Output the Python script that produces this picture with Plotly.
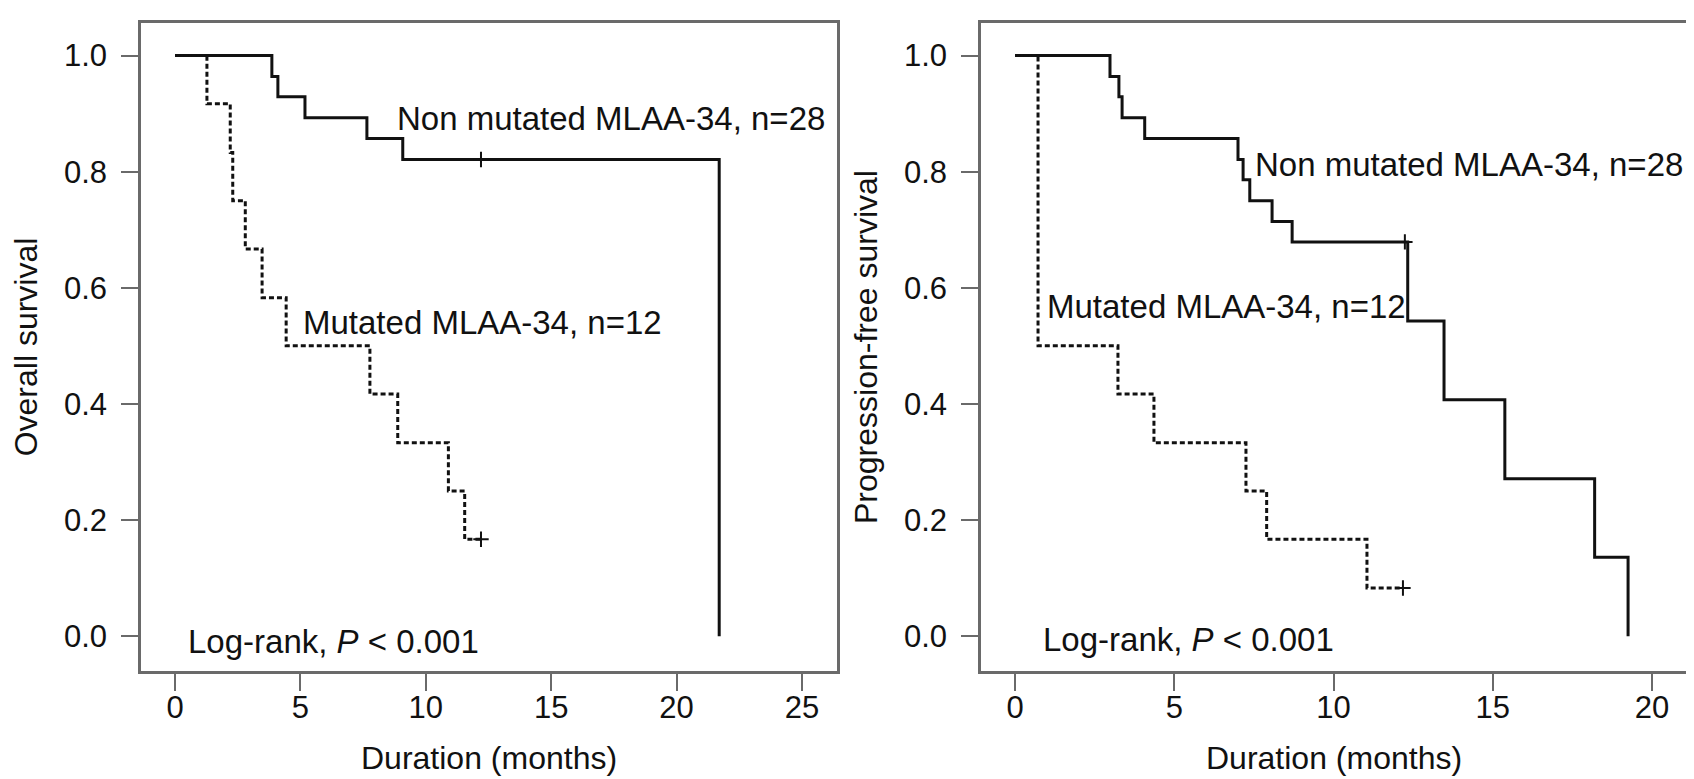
import plotly.graph_objects as go
from plotly.subplots import make_subplots

# left panel: overall survival
os_non_t = [0, 3.86, 4.1, 5.18, 7.65, 9.08, 21.7]
os_non_s = [1.0, 0.964, 0.929, 0.893, 0.857, 0.821, 0.0]
os_non_cens_t = [12.2]
os_non_cens_s = [0.821]

os_mut_t = [0, 1.27, 2.2, 2.3, 2.8, 3.47, 4.43, 7.77, 8.88, 10.9, 11.55, 12.2]
os_mut_s = [1.0, 0.917, 0.833, 0.75, 0.667, 0.583, 0.5, 0.417, 0.333, 0.25, 0.167, 0.167]
os_mut_cens_t = [12.2]
os_mut_cens_s = [0.167]

# right panel: progression-free survival
pfs_non_t = [0, 2.98, 3.26, 3.36, 4.07, 7.0, 7.16, 7.37, 8.07, 8.7, 12.33, 13.47, 15.38, 18.2, 19.25]
pfs_non_s = [1.0, 0.964, 0.929, 0.893, 0.857, 0.821, 0.786, 0.75, 0.714, 0.679, 0.543, 0.407, 0.271, 0.136, 0.0]
pfs_non_cens_t = [12.24]
pfs_non_cens_s = [0.679]

pfs_mut_t = [0, 0.72, 3.23, 4.36, 7.25, 7.9, 11.05, 12.18]
pfs_mut_s = [1.0, 0.5, 0.417, 0.333, 0.25, 0.167, 0.083, 0.083]
pfs_mut_cens_t = [12.18]
pfs_mut_cens_s = [0.083]

label_non = "Non mutated MLAA-34, n=28"
label_mut = "Mutated MLAA-34, n=12"
label_p = "Log-rank, <i>P</i> &lt; 0.001"
ytitles = ["Overall survival", "Progression-free survival"]
xtitle = "Duration (months)"

FONT = "Liberation Sans, Arial, sans-serif"
INK = "#111111"
AXIS = "#6a6a6a"

LEFT_DOM = [0.0785, 0.4894]
RIGHT_DOM = [0.5744, 0.9917]

fig = make_subplots(rows=1, cols=2)

def add_panel(col, non_t, non_s, nc_t, nc_s, mut_t, mut_s, mc_t, mc_s):
    fig.add_trace(go.Scatter(x=non_t, y=non_s, mode="lines", line_shape="hv",
                             line=dict(color=INK, width=3), showlegend=False), row=1, col=col)
    fig.add_trace(go.Scatter(x=mut_t, y=mut_s, mode="lines", line_shape="hv",
                             line=dict(color=INK, width=3, dash="5px,3px"), showlegend=False), row=1, col=col)
    # censored observations
    for ct, cs in ((nc_t, nc_s), (mc_t, mc_s)):
        fig.add_trace(go.Scatter(x=ct, y=cs, mode="markers",
                                 marker=dict(symbol="cross-thin", size=11, line=dict(color=INK, width=2)),
                                 showlegend=False), row=1, col=col)

add_panel(1, os_non_t, os_non_s, os_non_cens_t, os_non_cens_s,
          os_mut_t, os_mut_s, os_mut_cens_t, os_mut_cens_s)
add_panel(2, pfs_non_t, pfs_non_s, pfs_non_cens_t, pfs_non_cens_s,
          pfs_mut_t, pfs_mut_s, pfs_mut_cens_t, pfs_mut_cens_s)

axis_common = dict(showline=True, mirror=True, linecolor=AXIS, linewidth=2.5,
                   ticks="outside", ticklen=17, tickwidth=2, tickcolor=AXIS,
                   showgrid=False, zeroline=False,
                   tickfont=dict(family=FONT, size=31, color=INK))

fig.update_xaxes(axis_common)
fig.update_yaxes(axis_common)

title_font = dict(family=FONT, size=32, color=INK)
fig.update_xaxes(domain=LEFT_DOM, range=[-1.36, 26.4], tickvals=[0, 5, 10, 15, 20, 25],
                 ticklabelstandoff=-10, row=1, col=1)
fig.update_xaxes(domain=RIGHT_DOM, range=[-1.07, 21.13], tickvals=[0, 5, 10, 15, 20],
                 ticklabelstandoff=-10, row=1, col=2)
for col in (1, 2):
    fig.update_yaxes(domain=[0.1489, 0.9807], range=[-0.06, 1.056],
                     tickvals=[0, 0.2, 0.4, 0.6, 0.8, 1.0], tickformat=".1f",
                     ticklabelstandoff=8,
                     title=dict(text=ytitles[col - 1], font=title_font, standoff=17),
                     row=1, col=col)

# x titles placed in paper space under each panel
for dom in (LEFT_DOM, RIGHT_DOM):
    fig.add_annotation(xref="paper", yref="paper", x=(dom[0] + dom[1]) / 2, y=0.037,
                       text=xtitle, showarrow=False, xanchor="center", yanchor="middle",
                       font=title_font)

ann_font = dict(family=FONT, size=33, color=INK)
annotations = [
    ("x", "y", 8.77, 0.892, label_non),
    ("x", "y", 5.02, 0.541, label_mut),
    ("x", "y", 0.43, -0.01, label_p),
    ("x2", "y2", 7.47, 0.812, label_non),
    ("x2", "y2", 0.94, 0.567, label_mut),
    ("x2", "y2", 0.82, -0.005, label_p),
]
for xr, yr, ax, ay, txt in annotations:
    fig.add_annotation(xref=xr, yref=yr, x=ax, y=ay, text=txt, showarrow=False,
                       xanchor="left", yanchor="middle", font=ann_font)

fig.update_layout(width=1694, height=779, margin=dict(l=0, r=0, t=0, b=0),
                  plot_bgcolor="white", paper_bgcolor="white",
                  font=dict(family=FONT, color=INK))

fig.write_html("out.html")
